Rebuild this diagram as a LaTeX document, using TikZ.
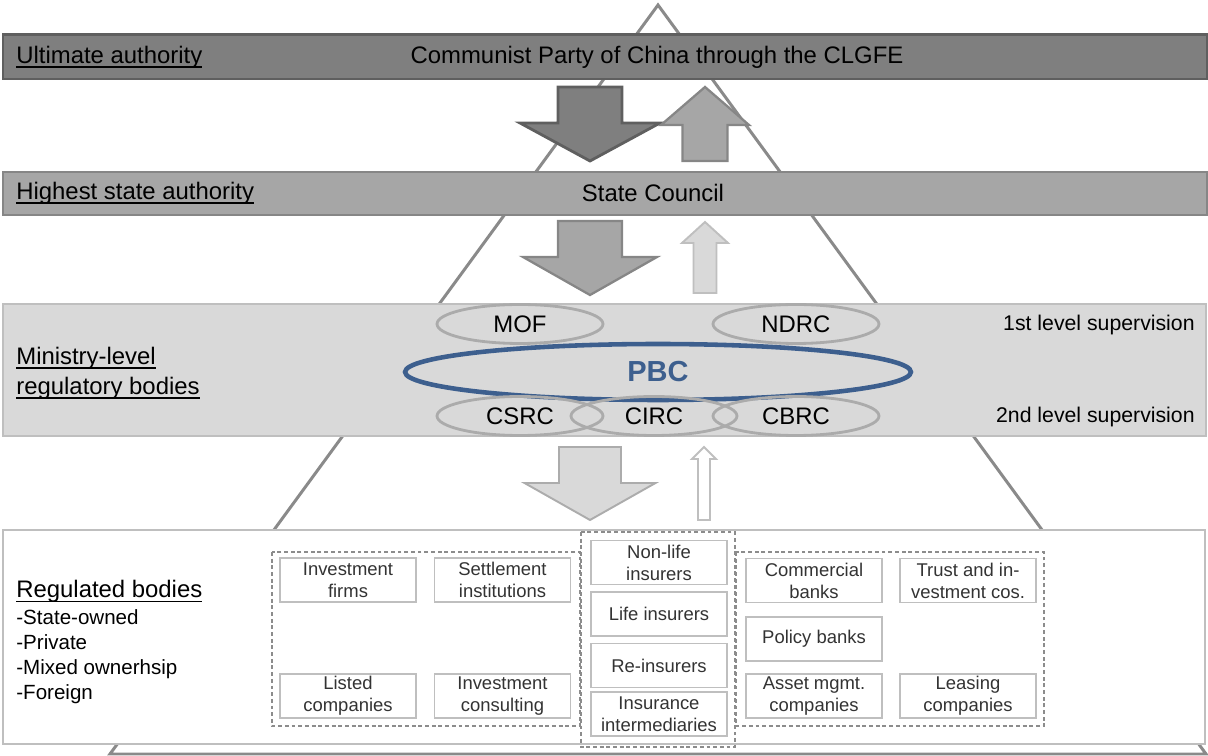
\documentclass[tikz,border=0pt]{standalone}
\usepackage{fontspec}
\setmainfont{Liberation Sans}
\usetikzlibrary{shapes.geometric}

\definecolor{darkbar}{HTML}{7F7F7F}
\definecolor{darkedge}{HTML}{5F5F5F}
\definecolor{midbar}{HTML}{A6A6A6}
\definecolor{midedge}{HTML}{868686}
\definecolor{lightbar}{HTML}{D9D9D9}
\definecolor{lightedge}{HTML}{BFBFBF}
\definecolor{ovalgray}{HTML}{ABABAB}
\definecolor{pyramid}{HTML}{8A8A8A}
\definecolor{pbcblue}{HTML}{3D5F8E}
\definecolor{dashgray}{HTML}{8C8C8C}

\newcommand\tierfont{\fontsize{13.6}{17}\selectfont}
\newcommand\notefont{\fontsize{12.1}{14}\selectfont}
\newcommand\listfont{\fontsize{11.7}{14.2}\selectfont}
\newcommand\unitfont{\fontsize{10.5}{12.5}\selectfont}
% underline at a fixed depth that does not change the box size
\newcommand\tierline[1]{{\setbox0\hbox{#1}\rlap{\smash{\rule[-2.6pt]{\wd0}{0.9pt}}}\box0}}

% block arrows: [style](centre x, top y)(head base y : tip y : shaft half width : head half width)
\def\blockdown[#1](#2,#3)(#4:#5:#6:#7){\draw[#1] ({#2-#6},#3) -- ({#2+#6},#3) -- ({#2+#6},#4) -- ({#2+#7},#4) -- (#2,#5) -- ({#2-#7},#4) -- ({#2-#6},#4) -- cycle;}
% [style](centre x, tip y)(head base y : bottom y : shaft half width : head half width)
\def\blockup[#1](#2,#3)(#4:#5:#6:#7){\draw[#1] (#2,#3) -- ({#2+#7},#4) -- ({#2+#6},#4) -- ({#2+#6},#5) -- ({#2-#6},#5) -- ({#2-#6},#4) -- ({#2-#7},#4) -- cycle;}

\tikzset{
	tier/.style={anchor=west, font=\tierfont, align=left, inner sep=0pt},
	note/.style={anchor=east, font=\notefont, inner sep=0pt},
	agency/.style={ellipse, draw=ovalgray, line width=1.6pt, minimum width=3.32cm, minimum height=0.78cm, inner sep=0pt, font=\tierfont},
	unit/.style={draw=lightedge, line width=0.9pt, minimum width=2.72cm, minimum height=0.88cm, inner sep=0pt, align=center, font=\unitfont, text=black!80},
	group/.style={draw=dashgray, line width=0.6pt, dash pattern=on 2.2pt off 1.6pt},
}

\begin{document}
\begin{tikzpicture}[x=0.02cm, y=-0.02cm]
	%%%%% START %%%%%
	\useasboundingbox (0, 0) rectangle (1208, 756);
	
	% pyramid behind everything
	\draw[pyramid, line width=1.7pt, line join=miter] (658, 5) -- (110, 754) -- (1206, 754) -- cycle;
	
	% the four tiers
	\draw[fill=darkbar, draw=darkedge, line width=1.7pt] (3, 35) rectangle (1207, 79);
	\draw[fill=midbar, draw=midedge, line width=1.7pt] (3, 172) rectangle (1207, 215);
	\draw[fill=lightbar, draw=lightedge, line width=1.3pt] (3, 304) rectangle (1206, 436);
	\draw[fill=white, draw=lightedge, line width=1.3pt] (3, 530) rectangle (1205, 744);
	
	\node[tier] (ultimate) at (16, 57) {\tierline{Ultimate authority}};
	\node[font=\tierfont] (cpc) at (657, 57) {Communist Party of China through the CLGFE};
	
	\node[tier] (highest) at (16, 193) {\tierline{Highest state authority}};
	\node[font=\tierfont] (council) at (653, 193) {State Council};
	
	\node[tier] (ministry) at (16, 373) {\tierline{Ministry-level}\\\tierline{regulatory bodies}};
	\node[note] (first) at (1195, 325) {1st level supervision};
	\node[note] (second) at (1195, 417) {2nd level supervision};
	
	\node[anchor=north west, align=left, inner sep=0pt, font=\listfont] (regulated) at (16, 580)
		{{\tierfont\tierline{Regulated bodies}}\\[1pt]-State-owned\\-Private\\-Mixed ownerhsip\\-Foreign};
	
	% flows between the tiers
	\blockdown[fill=darkbar, draw=darkedge, line width=1.6pt](590, 87)(123:161:32:70)
	\blockup[fill=midbar, draw=midedge, line width=1.3pt](705, 87)(125:161:22.5:44)
	
	\blockdown[fill=midbar, draw=midedge, line width=1.3pt](590, 221)(257:295:32:67)
	\blockup[fill=lightbar, draw=lightedge, line width=1.1pt](705, 222)(243:293:11.5:23)
	
	\blockdown[fill=lightbar, draw=lightedge!90!black, line width=1.1pt](590, 447)(483:520:31:65.5)
	\blockup[fill=white, draw=lightedge, line width=1.1pt](704, 447)(459:520:6:12)
	
	% regulators
	\node[agency] (mof) at (520, 324) {MOF};
	\node[agency] (ndrc) at (796, 324) {NDRC};
	\node[ellipse, draw=pbcblue, line width=2.6pt, minimum width=10.12cm, minimum height=1.12cm, inner sep=0pt,
		text=pbcblue, font=\fontsize{16.5}{18}\selectfont\bfseries] (pbc) at (658, 372) {PBC};
	\node[agency] (csrc) at (520, 416) {CSRC};
	\node[agency] (circ) at (654, 416) {CIRC};
	\node[agency] (cbrc) at (796, 416) {CBRC};
	
	% securities
	\draw[group] (272, 552) rectangle (580, 726);
	\node[unit] (invfirms) at (348, 580) {Investment\\firms};
	\node[unit] (settle) at (502.5, 580) {Settlement\\institutions};
	\node[unit] (listed) at (348, 696) {Listed\\companies};
	\node[unit] (consult) at (502.5, 696) {Investment\\consulting};
	
	% insurance
	\draw[group] (581, 532) rectangle (735, 747);
	\node[unit] (nonlife) at (659, 562.5) {Non-life\\insurers};
	\node[unit] (life) at (659, 614) {Life insurers};
	\node[unit] (reins) at (659, 665.5) {Re-insurers};
	\node[unit] (brokers) at (659, 714) {Insurance\\intermediaries};
	
	% banking
	\draw[group] (736, 552) rectangle (1044, 726);
	\node[unit] (commercial) at (814, 580.5) {Commercial\\banks};
	\node[unit] (trust) at (968, 580.5) {Trust and in-\\vestment cos.};
	\node[unit] (policy) at (814, 639) {Policy banks};
	\node[unit] (asset) at (814, 696) {Asset mgmt.\\companies};
	\node[unit] (leasing) at (968, 696) {Leasing\\companies};
	
	%%%%% END %%%%%
\end{tikzpicture}
\end{document}
